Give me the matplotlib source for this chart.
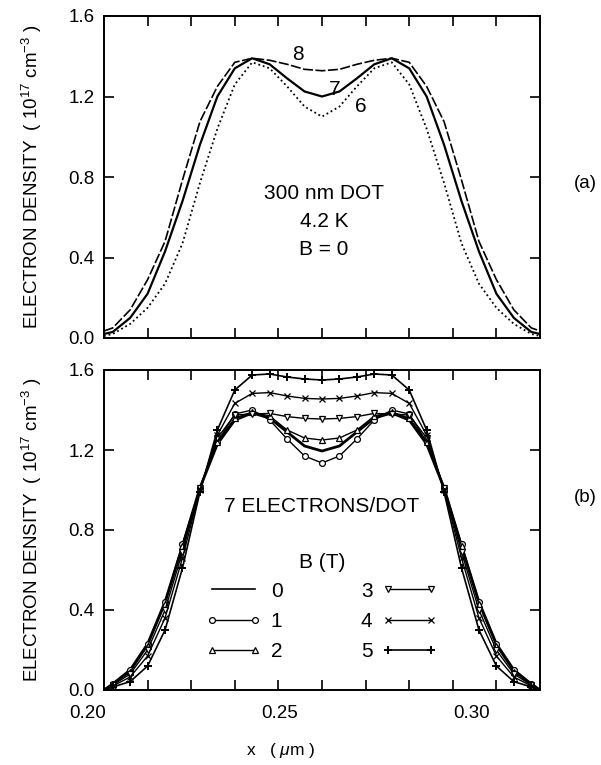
import matplotlib
matplotlib.use("Agg")
import matplotlib.pyplot as plt
from matplotlib import font_manager

# ---------------- data ----------------
x_um = [0.200, 0.202, 0.206, 0.210, 0.214, 0.218, 0.222, 0.226, 0.230, 0.234,
        0.238, 0.242, 0.246, 0.250, 0.254, 0.258, 0.262, 0.266, 0.270, 0.274,
        0.278, 0.282, 0.286, 0.290, 0.294, 0.298, 0.300]

# panel (a): B = 0, different electron numbers
n8 = [0.035, 0.05, 0.14, 0.29, 0.48, 0.785, 1.075, 1.25, 1.37, 1.39, 1.38, 1.36, 1.335,
      1.328, 1.335, 1.36, 1.38, 1.39, 1.37, 1.25, 1.075, 0.785, 0.48, 0.29, 0.14, 0.05, 0.035]
n7 = [0.02, 0.03, 0.10, 0.22, 0.43, 0.68, 0.96, 1.20, 1.34, 1.39, 1.36, 1.29, 1.225,
      1.20, 1.225, 1.29, 1.36, 1.39, 1.34, 1.20, 0.96, 0.68, 0.43, 0.22, 0.10, 0.03, 0.02]
n6 = [0.01, 0.02, 0.07, 0.15, 0.27, 0.47, 0.77, 1.04, 1.26, 1.37, 1.34, 1.25, 1.15,
      1.10, 1.15, 1.25, 1.34, 1.37, 1.26, 1.04, 0.77, 0.47, 0.27, 0.15, 0.07, 0.02, 0.01]
curve_labels_a = ["8", "7", "6"]

# panel (b): 7 electrons, different magnetic fields
b0 = [0.0, 0.03, 0.10, 0.23, 0.44, 0.72, 1.01, 1.23, 1.35, 1.385, 1.36, 1.29, 1.22,
      1.195, 1.22, 1.29, 1.36, 1.385, 1.35, 1.23, 1.01, 0.72, 0.44, 0.23, 0.10, 0.03, 0.0]
b1 = [0.0, 0.03, 0.10, 0.23, 0.44, 0.73, 1.01, 1.24, 1.38, 1.40, 1.35, 1.255, 1.17,
      1.135, 1.17, 1.255, 1.35, 1.40, 1.38, 1.24, 1.01, 0.73, 0.44, 0.23, 0.10, 0.03, 0.0]
b2 = [0.0, 0.03, 0.09, 0.22, 0.43, 0.72, 1.01, 1.24, 1.36, 1.39, 1.37, 1.30, 1.26,
      1.25, 1.26, 1.30, 1.37, 1.39, 1.36, 1.24, 1.01, 0.72, 0.43, 0.22, 0.09, 0.03, 0.0]
b3 = [0.0, 0.025, 0.08, 0.20, 0.40, 0.69, 1.01, 1.26, 1.375, 1.38, 1.383, 1.367, 1.358,
      1.355, 1.358, 1.367, 1.383, 1.38, 1.375, 1.26, 1.01, 0.69, 0.40, 0.20, 0.08, 0.025, 0.0]
b4 = [0.0, 0.02, 0.065, 0.17, 0.36, 0.66, 1.00, 1.275, 1.433, 1.483, 1.487, 1.47, 1.458,
      1.455, 1.458, 1.47, 1.487, 1.483, 1.433, 1.275, 1.00, 0.66, 0.36, 0.17, 0.065, 0.02, 0.0]
b5 = [0.0, 0.015, 0.042, 0.12, 0.30, 0.61, 0.99, 1.30, 1.50, 1.575, 1.58, 1.565, 1.555,
      1.55, 1.555, 1.565, 1.58, 1.575, 1.50, 1.30, 0.99, 0.61, 0.30, 0.12, 0.042, 0.015, 0.0]
field_labels = ["0", "1", "2", "3", "4", "5"]

ytick_vals = [0.0, 0.4, 0.8, 1.2, 1.6]
ytick_labels = ["0.0", "0.4", "0.8", "1.2", "1.6"]
xtick_labels = ["0.20", "0.25", "0.30"]

# ---------------- fonts ----------------
available = {f.name for f in font_manager.fontManager.ttflist}
main_font = "Liberation Sans" if "Liberation Sans" in available else "DejaVu Sans"
narrow_font = "Liberation Sans Narrow" if "Liberation Sans Narrow" in available else main_font
plt.rcParams["font.family"] = [main_font, "DejaVu Sans"]
plt.rcParams["mathtext.fontset"] = "custom"
plt.rcParams["mathtext.rm"] = narrow_font
plt.rcParams["mathtext.it"] = main_font + ":italic"

FS = 13.5

fig = plt.figure(figsize=(6.01, 7.65), dpi=100)
W, H = 601.0, 765.0
ax1 = fig.add_axes([104 / W, 1 - 338 / H, 436 / W, 322 / H])
ax2 = fig.add_axes([104 / W, 1 - 690 / H, 436 / W, 320 / H])

for ax in (ax1, ax2):
    ax.set_xlim(0.20, 0.30)
    ax.set_ylim(0.0, 1.6)
    ax.set_xticks([0.20 + 0.01 * i for i in range(11)])
    ax.set_xticklabels([])
    ax.set_yticks(ytick_vals)
    ax.set_yticklabels(ytick_labels)
    ax.tick_params(direction="in", top=True, right=True, length=7, width=1.2,
                   labelsize=FS, pad=7)
    for s in ax.spines.values():
        s.set_linewidth(1.4)
    ax.set_ylabel("ELECTRON DENSITY  ( 10$^{17}$ cm$^{-3}$ )", fontsize=13.5,
                  family=narrow_font, labelpad=17)

# ---------------- panel (a) ----------------
ax1.plot(x_um, n8, color="black", lw=1.2, dashes=(6, 1.5))
ax1.plot(x_um, n7, color="black", lw=1.6)
ax1.plot(x_um, n6, color="black", lw=1.3, linestyle=(0, (1, 1.6)))
ax1.text(0.2444, 1.41, curve_labels_a[0], fontsize=15, ha="center", va="center")
ax1.text(0.2528, 1.235, curve_labels_a[1], fontsize=15, ha="center", va="center")
ax1.text(0.2588, 1.15, curve_labels_a[2], fontsize=15, ha="center", va="center")
ax1.text(0.2505, 0.72, "300 nm DOT", fontsize=15, ha="center", va="center")
ax1.text(0.2505, 0.577, "4.2 K", fontsize=15, ha="center", va="center")
ax1.text(0.2505, 0.44, "B = 0", fontsize=15, ha="center", va="center")
fig.text(585 / W, 1 - 183 / H, "(a)", fontsize=13.5, ha="center", va="center")

# ---------------- panel (b) ----------------
mk = dict(color="black", markevery=slice(1, -1), markerfacecolor="white", markersize=4.2,
          markeredgewidth=0.9)
series = [
    (b0, dict(color="black", lw=2.0)),
    (b1, dict(lw=1.0, marker="o", **mk)),
    (b2, dict(lw=1.0, marker="^", **mk)),
    (b3, dict(lw=1.0, marker="v", **mk)),
    (b4, dict(lw=1.0, marker="x", color="black", markevery=slice(1, -1), markersize=4,
              markeredgewidth=0.9)),
    (b5, dict(lw=1.2, marker="+", color="black", markevery=slice(1, -1), markersize=6,
              markeredgewidth=1.4)),
]
handles = []
for (ys, style), lab in zip(series, field_labels):
    line, = ax2.plot(x_um, ys, label=lab, **style)
    handles.append(line)

ax2.text(0.250, 0.92, "7 ELECTRONS/DOT", fontsize=15, ha="center", va="center")
ax2.text(0.250, 0.64, "B (T)", fontsize=15, ha="center", va="center")

leg_kw = dict(frameon=False, numpoints=2, fontsize=15, handlelength=2.65,
              labelspacing=0.55, handletextpad=0.45, borderaxespad=0)
leg1 = ax2.legend(handles=handles[:3], labels=field_labels[:3],
                  loc="upper left", bbox_to_anchor=(0.215, 0.365), markerfirst=True, **leg_kw)
ax2.add_artist(leg1)
leg2 = ax2.legend(handles=handles[3:], labels=field_labels[3:],
                  loc="upper left", bbox_to_anchor=(0.570, 0.365), markerfirst=False, **leg_kw)
for lg in (leg1, leg2):
    for h in lg.legend_handles:
        if h.get_linewidth() > 1.5:
            h.set_linewidth(1.2)

fig.text(585 / W, 1 - 497 / H, "(b)", fontsize=13.5, ha="center", va="center")

# x tick labels (printed slightly offset from tick marks, as in the original)
label_px = [88, 280, 472]
for px, lab in zip(label_px, xtick_labels):
    fig.text(px / W, 1 - 714 / H, lab, fontsize=FS, ha="center", va="center")

fig.text(281 / W, 1 - 751 / H, "x   ( $\\mu$m )", fontsize=12.5, ha="center", va="center")

fig.savefig("out.png", dpi=100)
